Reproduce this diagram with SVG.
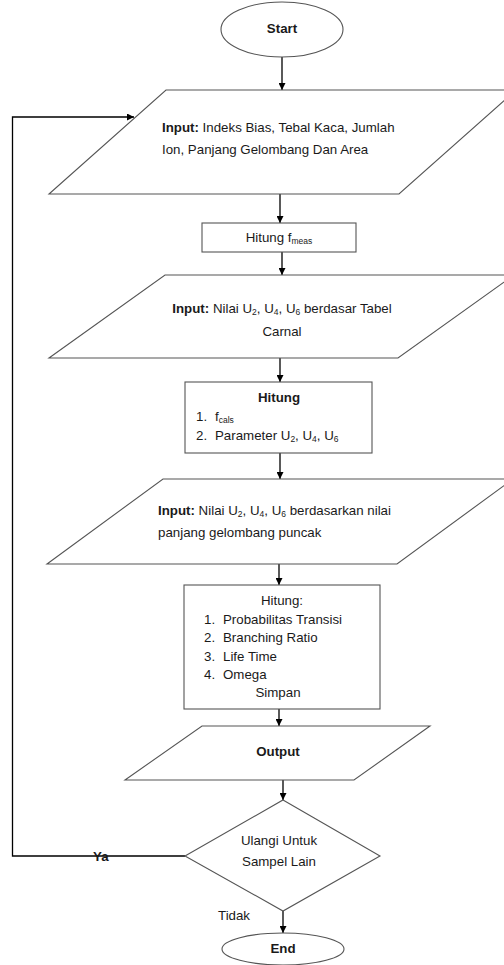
<svg xmlns="http://www.w3.org/2000/svg" width="504" height="965" viewBox="0 0 504 965">
<defs>
<marker id="ah" viewBox="0 0 10 10" refX="10" refY="5" markerWidth="7" markerHeight="7" markerUnits="userSpaceOnUse" orient="auto">
<path d="M0,0 L10,5 L0,10 z" fill="#000"/>
</marker>
<style>
.sh{fill:#fff;stroke:#555;stroke-width:1.1}
.cn{fill:none;stroke:#000;stroke-width:1.3}
.ar{marker-end:url(#ah)}
text{font-family:"Liberation Sans",Arial,sans-serif;font-size:13.3px;fill:#1a1a1a}
.b{font-weight:bold}
.c{text-anchor:middle}
.s{font-size:8.5px}
</style>
</defs>
<rect width="504" height="965" fill="#fff"/>
<g id="connectors">
<line class="cn ar" x1="282" y1="57" x2="282" y2="90"/>
<line class="cn ar" x1="280" y1="194" x2="280" y2="223"/>
<line class="cn ar" x1="282" y1="252" x2="282" y2="275"/>
<line class="cn ar" x1="280" y1="358" x2="280" y2="382"/>
<line class="cn ar" x1="280" y1="453" x2="280" y2="479"/>
<line class="cn ar" x1="279" y1="564" x2="279" y2="585"/>
<line class="cn ar" x1="279" y1="709" x2="279" y2="726"/>
<line class="cn ar" x1="283" y1="780" x2="283" y2="800"/>
<line class="cn ar" x1="283" y1="911" x2="283" y2="933"/>
<polyline class="cn ar" points="185,856 12.5,856 12.5,117 134,117"/>
<text class="b" x="93" y="861">Ya</text>
<text x="218" y="920">Tidak</text>
</g>
<g id="start">
<ellipse class="sh" cx="282" cy="29.5" rx="61" ry="27.5"/>
<text class="b c" x="282" y="33">Start</text>
</g>
<g id="input1">
<polygon class="sh" points="166,90 516,90 399,194 49,194"/>
<text x="162" y="132"><tspan class="b">Input:</tspan> Indeks Bias, Tebal Kaca, Jumlah</text>
<text x="162" y="154">Ion, Panjang Gelombang Dan Area</text>
</g>
<g id="hitung-fmeas">
<rect class="sh" x="202" y="223" width="154" height="29"/>
<text class="c" x="279" y="242">Hitung f<tspan class="s" dy="2">meas</tspan></text>
</g>
<g id="input2">
<polygon class="sh" points="165,275 514,275 398,358 49,358"/>
<text class="c" x="282" y="313"><tspan class="b">Input:</tspan> Nilai U<tspan class="s" dy="2">2</tspan><tspan dy="-2">, U</tspan><tspan class="s" dy="2">4</tspan><tspan dy="-2">, U</tspan><tspan class="s" dy="2">6</tspan><tspan dy="-2"> berdasar Tabel</tspan></text>
<text class="c" x="282" y="336">Carnal</text>
</g>
<g id="hitung1">
<rect class="sh" x="185" y="382" width="187" height="71"/>
<text class="b c" x="279" y="402">Hitung</text>
<text x="196" y="421">1.</text>
<text x="215" y="421">f<tspan class="s" dy="2">cals</tspan></text>
<text x="196" y="440">2.</text>
<text x="215" y="440">Parameter U<tspan class="s" dy="2">2</tspan><tspan dy="-2">, U</tspan><tspan class="s" dy="2">4</tspan><tspan dy="-2">, U</tspan><tspan class="s" dy="2">6</tspan></text>
</g>
<g id="input3">
<polygon class="sh" points="163,479 513,479 397,564 47,564"/>
<text x="158" y="515"><tspan class="b">Input:</tspan> Nilai U<tspan class="s" dy="2">2</tspan><tspan dy="-2">, U</tspan><tspan class="s" dy="2">4</tspan><tspan dy="-2">, U</tspan><tspan class="s" dy="2">6</tspan><tspan dy="-2"> berdasarkan nilai</tspan></text>
<text x="158" y="537">panjang gelombang puncak</text>
</g>
<g id="hitung2">
<rect class="sh" x="184" y="585" width="196" height="124"/>
<text class="c" x="282" y="605">Hitung:</text>
<text x="204" y="624">1.</text><text x="223" y="624">Probabilitas Transisi</text>
<text x="204" y="642">2.</text><text x="223" y="642">Branching Ratio</text>
<text x="204" y="661">3.</text><text x="223" y="661">Life Time</text>
<text x="204" y="679">4.</text><text x="223" y="679">Omega</text>
<text class="c" x="278" y="697">Simpan</text>
</g>
<g id="output">
<polygon class="sh" points="202,726 430,726 354,780 125,780"/>
<text class="b c" x="278" y="756">Output</text>
</g>
<g id="decision">
<polygon class="sh" points="283,800 380,856 283,911 185,856"/>
<text class="c" x="279" y="845">Ulangi Untuk</text>
<text class="c" x="279" y="866">Sampel Lain</text>
</g>
<g id="end">
<ellipse class="sh" cx="283" cy="949" rx="61" ry="16"/>
<text class="b c" x="283" y="953">End</text>
</g>
</svg>
